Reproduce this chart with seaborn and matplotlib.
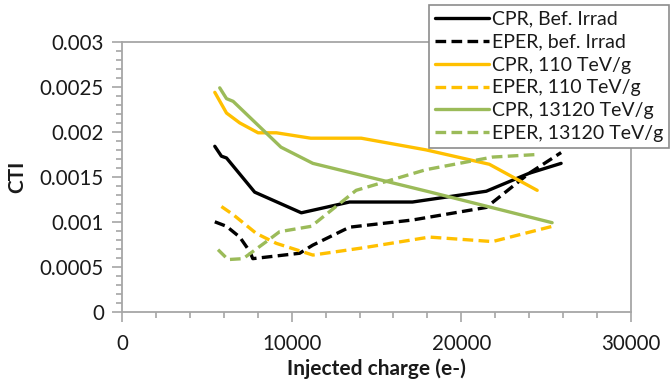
import matplotlib
matplotlib.use("Agg")
import matplotlib.pyplot as plt
import seaborn as sns
import pandas as pd
from matplotlib.ticker import MultipleLocator, FuncFormatter

# ---- data ----
cpr_bef_x = [5470, 5860, 6160, 7820, 10570, 13410, 17120, 21470, 24000, 25880]
cpr_bef_y = [0.00184, 0.00173, 0.00171, 0.00133, 0.00110, 0.00122, 0.00122, 0.00134, 0.00154, 0.00165]

eper_bef_x = [5470, 6160, 6940, 7530, 7710, 10470, 11240, 13410, 17120, 21470, 24000, 25880]
eper_bef_y = [0.00100, 0.00095, 0.00083, 0.00067, 0.00059, 0.00065, 0.00074, 0.00094, 0.00102, 0.00116, 0.00154, 0.00177]

cpr_110_x = [5470, 6160, 6940, 8020, 9100, 11120, 14100, 17920, 21650, 24470]
cpr_110_y = [0.00244, 0.00221, 0.00210, 0.00199, 0.00199, 0.00193, 0.00193, 0.00180, 0.00164, 0.00135]

eper_110_x = [5860, 6550, 7920, 9100, 11250, 14190, 18120, 21840, 25370]
eper_110_y = [0.00117, 0.00108, 0.00087, 0.00076, 0.00063, 0.00071, 0.00083, 0.00078, 0.00095]

cpr_13120_x = [5760, 6160, 6550, 9370, 11250, 18180, 25350]
cpr_13120_y = [0.00249, 0.00237, 0.00234, 0.00183, 0.00165, 0.00133, 0.00099]

eper_13120_x = [5660, 6250, 7140, 8510, 9290, 11160, 13800, 17920, 21840, 24590]
eper_13120_y = [0.00069, 0.00058, 0.00059, 0.00078, 0.00089, 0.00095, 0.00135, 0.00158, 0.00172, 0.00175]

labels = ["CPR, Bef. Irrad", "EPER, bef. Irrad", "CPR, 110 TeV/g",
          "EPER, 110 TeV/g", "CPR, 13120 TeV/g", "EPER, 13120 TeV/g"]
xs = [cpr_bef_x, eper_bef_x, cpr_110_x, eper_110_x, cpr_13120_x, eper_13120_x]
ys = [cpr_bef_y, eper_bef_y, cpr_110_y, eper_110_y, cpr_13120_y, eper_13120_y]

x_ticks = [0, 10000, 20000, 30000]
y_ticks = [0, 0.0005, 0.001, 0.0015, 0.002, 0.0025, 0.003]

colors = ["#000000", "#000000", "#FFC000", "#FFC000", "#9BBB59", "#9BBB59"]
dashed = [False, True, False, True, False, True]

sns.set_style("white")
plt.rcParams['font.family'] = ['Lato', 'DejaVu Sans']

fig = plt.figure(figsize=(6.71, 3.85), dpi=100)
ax = fig.add_axes([0.1818, 0.1904, 0.9404 - 0.1818, 0.8909 - 0.1904])

grey = "#A6A6A6"
for x, y, lab, c, d in zip(xs, ys, labels, colors, dashed):
    df = pd.DataFrame({"x": x, "y": y})
    sns.lineplot(data=df, x="x", y="y", ax=ax, color=c, linewidth=2.4,
                 sort=False, label=lab, estimator=None,
                 linestyle=(0, (3.2, 1.6)) if d else "-")

ax.set_xlim(0, 30000)
ax.set_ylim(0, 0.003)
ax.set_xticks(x_ticks)
ax.set_yticks(y_ticks)
ax.xaxis.set_minor_locator(MultipleLocator(2000))
ax.yaxis.set_minor_locator(MultipleLocator(0.0001))
ax.xaxis.set_major_formatter(FuncFormatter(lambda v, p: "%d" % v))
ax.yaxis.set_major_formatter(FuncFormatter(lambda v, p: "%g" % v))
ax.tick_params(which="major", direction="out", length=7, width=1.2, color=grey,
               labelsize=14.8, labelcolor="#1a1a1a", pad=6)
ax.tick_params(which="minor", direction="out", length=4, width=1.2, color=grey)
ax.tick_params(axis="x", which="major", pad=9)
ax.tick_params(axis="x", which="both", bottom=True)
ax.tick_params(axis="y", which="both", left=True)
for s in ax.spines.values():
    s.set_color(grey)
    s.set_linewidth(1.3)

ax.set_xlabel("Injected charge (e-)", fontsize=15, fontweight="bold", color="#1a1a1a", labelpad=3)
ax.set_ylabel("CTI", fontsize=15, fontweight="bold", color="#1a1a1a", labelpad=9)

ax.get_legend().remove()
h, l = ax.get_legend_handles_labels()
leg = fig.legend(h, l, loc="upper right", bbox_to_anchor=(0.997, 0.987),
                 fontsize=14, frameon=True, fancybox=False, framealpha=1,
                 edgecolor="#8C8C8C", handlelength=2.8, handletextpad=0.15,
                 labelspacing=0.3, borderpad=0.3, borderaxespad=0)
leg.get_frame().set_linewidth(1.2)
for t in leg.get_texts():
    t.set_color("#1a1a1a")

fig.savefig("out.png", dpi=100)
